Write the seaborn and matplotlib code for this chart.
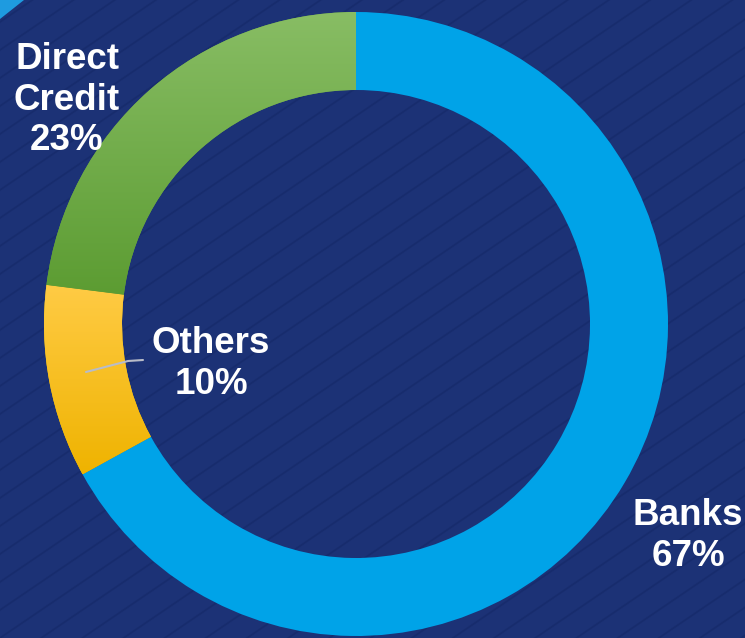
import numpy as np
import matplotlib
matplotlib.use("Agg")
import matplotlib.pyplot as plt
import seaborn as sns
from matplotlib.colors import LinearSegmentedColormap
from matplotlib.patches import Polygon

sns.set_theme(style="white")
plt.rcParams['font.family'] = ['Liberation Sans', 'DejaVu Sans']

categories = ["Banks", "Others", "Direct\nCredit"]
shares = [67, 10, 23]
label_texts = ["Banks\n67%", "Others\n10%", "Direct\nCredit\n23%"]

BG = "#1C3276"
BLUE = "#00A3E8"

W, H = 745, 638
fig = plt.figure(figsize=(W / 100, H / 100), dpi=100, facecolor=BG)
ax = fig.add_axes([0, 0, 1, 1])
ax.set_facecolor(BG)
ax.set_xlim(0, W)
ax.set_ylim(0, H)
ax.set_aspect("equal")
ax.axis("off")

# background diagonal stripes
for c in np.arange(-700, 900, 28):
    xs = np.array([-10, W + 10])
    ax.plot(xs, c + 0.68 * xs, color="#162A6A", lw=1.3, alpha=0.7, zorder=0)

# top-left corner accent
ax.add_patch(Polygon([[0, H], [24, H], [0, H - 19]], closed=True,
                     facecolor="#1E9BE0", edgecolor="none", zorder=1))

cx, cy, R, ring = 356, 314, 312, 78
wedges, _ = ax.pie(shares, startangle=90, counterclock=False, center=(cx, cy),
                   radius=R, colors=[BLUE, "#FFC800", "#6AA93F"],
                   wedgeprops=dict(width=ring, edgecolor="none"),
                   frame=True)
ax.set_xlim(0, W)
ax.set_ylim(0, H)
ax.axis("off")

def gradient(wedge, top, bottom):
    cmap = LinearSegmentedColormap.from_list("g", [bottom, top])
    grad = np.linspace(0, 1, 256).reshape(-1, 1)
    bb = wedge.get_path().get_extents(wedge.get_patch_transform())
    im = ax.imshow(grad, cmap=cmap, origin="lower", aspect="auto",
                   extent=[bb.x0, bb.x1, bb.y0, bb.y1], zorder=wedge.get_zorder() + 0.1)
    im.set_clip_path(wedge)

gradient(wedges[1], "#FFCB45", "#EFB300")
gradient(wedges[2], "#88BD64", "#5C9C32")
ax.set_xlim(0, W)
ax.set_ylim(0, H)

fs = 26.5
ls = 1.2
ax.text(688, H - 536, label_texts[0], ha="center", va="center", color="white",
        fontsize=fs, fontweight="bold", linespacing=ls, zorder=5)
ax.text(211, H - 364, label_texts[1], ha="center", va="center", color="white",
        fontsize=fs, fontweight="bold", linespacing=ls, zorder=5)
ax.text(67, H - 100, label_texts[2], ha="center", va="center", color="white",
        fontsize=fs, fontweight="bold", linespacing=ls, zorder=5)

# leader line for Others
ax.plot([86, 128, 143], [H - 372, H - 361, H - 360], color="#B8BCC8", lw=1.5, zorder=6)

fig.savefig("out.png", dpi=100, facecolor=BG)
